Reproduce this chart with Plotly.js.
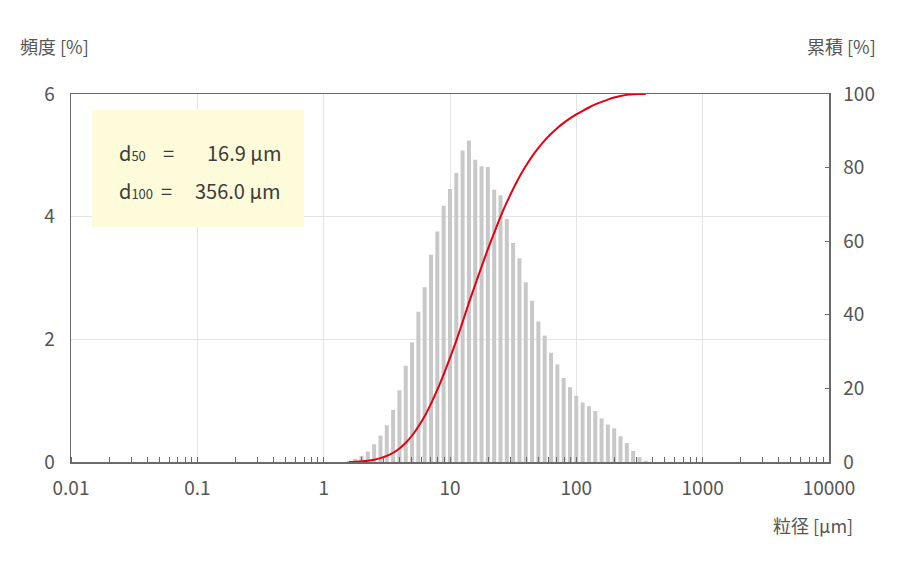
<!DOCTYPE html>
<html>
<head>
<meta charset="utf-8">
<script src="https://cdn.plot.ly/plotly-3.0.1.min.js"></script>
<style>
  html, body { margin: 0; padding: 0; background: white; }
  #chart { width: 900px; height: 570px; }
</style>
</head>
<body>
<div id="chart"></div>
<script>
// particle size channels [µm]
const sizes = [
  1.585, 1.778, 1.995, 2.239, 2.512, 2.818, 3.162, 3.548, 3.981, 4.467,
  5.012, 5.623, 6.310, 7.079, 7.943, 8.913, 10.00, 11.22, 12.59, 14.13,
  15.85, 17.78, 19.95, 22.39, 25.12, 28.18, 31.62, 35.48, 39.81, 44.67,
  50.12, 56.23, 63.10, 70.79, 79.43, 89.13, 100.0, 112.2, 125.9, 141.3,
  158.5, 177.8, 199.5, 223.9, 251.2, 281.8, 316.2, 354.8
];

// frequency [%]
const frequency = [
  0.02, 0.05, 0.10, 0.17, 0.29, 0.43, 0.60, 0.85, 1.17, 1.57,
  1.95, 2.45, 2.85, 3.38, 3.76, 4.18, 4.45, 4.71, 5.08, 5.24,
  4.93, 4.82, 4.81, 4.44, 4.35, 3.96, 3.57, 3.32, 2.93, 2.63,
  2.29, 2.06, 1.78, 1.59, 1.37, 1.22, 1.08, 0.97, 0.91, 0.83,
  0.71, 0.61, 0.55, 0.42, 0.31, 0.18, 0.08, 0.02
];

// cumulative [%]
const cumulative = [
  0.02, 0.07, 0.17, 0.34, 0.63, 1.06, 1.66, 2.51, 3.68, 5.25,
  7.20, 9.65, 12.50, 15.88, 19.64, 23.82, 28.27, 32.98, 38.06, 43.30,
  48.23, 53.05, 57.86, 62.30, 66.65, 70.61, 74.18, 77.50, 80.43, 83.06,
  85.35, 87.41, 89.19, 90.78, 92.15, 93.37, 94.45, 95.42, 96.33, 97.16,
  97.87, 98.48, 99.03, 99.45, 99.76, 99.94, 99.98, 100.0
];

const xTickVals = [0.01, 0.1, 1, 10, 100, 1000, 10000];
const xTickText = ['0.01', '0.1', '1', '10', '100', '1000', '10000'];

const subStyle = 'font-size:13px';
const d50Label = 'd<span style="' + subStyle + '">50</span>';
const d50Value = '16.9 µm';
const d100Label = 'd<span style="' + subStyle + '">100</span>';
const d100Value = '356.0 µm';

const textColor = '#555555';
const boxText = '#3c3c3c';
const axisColor = '#6a6a6a';
const gridColor = '#e3e3e3';
const font = '"Noto Sans CJK JP", "Noto Sans", sans-serif';

// on a log axis bar width is in linear units, so scale it with the position
// (about 0.032 decade wide, i.e. ~4px)
const barWidths = sizes.map(s => s * 0.073);

const bars = {
  x: sizes,
  y: frequency,
  width: barWidths,
  type: 'bar',
  marker: { color: '#c8c8c8', line: { width: 0 } },
  hoverinfo: 'skip'
};

const curve = {
  x: sizes,
  y: cumulative,
  yaxis: 'y2',
  type: 'scatter',
  mode: 'lines',
  line: { color: '#e60012', width: 2, shape: 'spline', smoothing: 0.6 },
  hoverinfo: 'skip'
};

function boxNote(text, x, y, anchor) {
  return {
    text: text, xref: 'paper', yref: 'paper', x: x, y: y,
    xanchor: anchor, yanchor: 'middle', showarrow: false,
    font: { size: 20, color: boxText }
  };
}

const layout = {
  width: 900,
  height: 570,
  paper_bgcolor: 'white',
  plot_bgcolor: 'white',
  margin: { l: 71, r: 71, t: 94, b: 108 },
  font: { family: font, color: textColor, size: 19 },
  showlegend: false,
  xaxis: {
    type: 'log',
    range: [-2, 4],
    tickvals: xTickVals,
    ticktext: xTickText,
    ticks: '',
    ticklabelstandoff: 9,
    showgrid: true,
    gridcolor: gridColor,
    gridwidth: 1,
    showline: true,
    linecolor: axisColor,
    linewidth: 1.5,
    mirror: true,
    zeroline: false,
    fixedrange: true,
    minor: {
      dtick: 'D1',
      ticks: 'inside',
      ticklen: 5,
      tickwidth: 1,
      tickcolor: axisColor,
      showgrid: false
    }
  },
  yaxis: {
    range: [0, 6],
    dtick: 2,
    ticks: '',
    ticklabelstandoff: 11,
    showgrid: true,
    gridcolor: gridColor,
    showline: true,
    linecolor: axisColor,
    linewidth: 1.5,
    zeroline: false,
    fixedrange: true
  },
  yaxis2: {
    overlaying: 'y',
    side: 'right',
    range: [0, 100],
    dtick: 20,
    ticks: 'inside',
    ticklen: 4,
    tickcolor: axisColor,
    ticklabelstandoff: 9,
    showgrid: false,
    showline: true,
    linecolor: axisColor,
    linewidth: 1.5,
    zeroline: false,
    fixedrange: true
  },
  shapes: [
    {
      type: 'rect', xref: 'paper', yref: 'paper',
      x0: 0.0277, x1: 0.3074, y0: 0.6386, y1: 0.9565,
      fillcolor: '#fdfbd9', line: { width: 0 }, layer: 'above'
    }
  ],
  annotations: [
    { text: '頻度 [%]', xref: 'paper', yref: 'paper', x: -0.07, y: 1.13,
      xanchor: 'left', yanchor: 'middle', showarrow: false, font: { size: 18 } },
    { text: '累積 [%]', xref: 'paper', yref: 'paper', x: 1.0646, y: 1.13,
      xanchor: 'right', yanchor: 'middle', showarrow: false, font: { size: 18 } },
    { text: '粒径 [µm]', xref: 'paper', yref: 'paper', x: 1.034, y: -0.171,
      xanchor: 'right', yanchor: 'middle', showarrow: false, font: { size: 18 } },
    boxNote(d50Label, 0.0607, 0.8405, 'left'),
    boxNote('=', 0.1285, 0.8405, 'center'),
    boxNote(d50Value, 0.2797, 0.8405, 'right'),
    boxNote(d100Label, 0.0607, 0.7391, 'left'),
    boxNote('=', 0.1265, 0.7391, 'center'),
    boxNote(d100Value, 0.2797, 0.7391, 'right')
  ]
};

Plotly.newPlot('chart', [bars, curve], layout, { displayModeBar: false, staticPlot: true });
</script>
</body>
</html>
